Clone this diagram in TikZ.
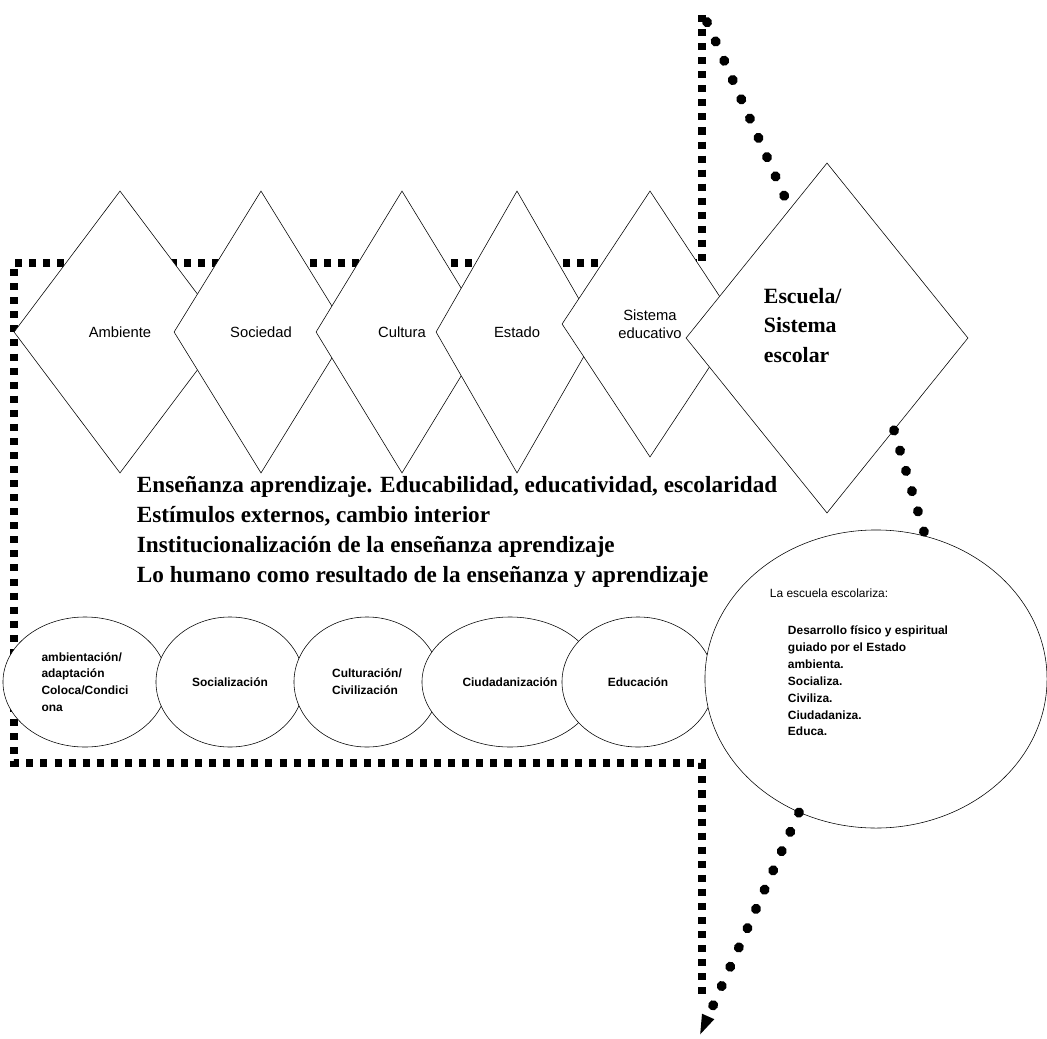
\documentclass[tikz,border=0pt]{standalone}
\usepackage{fontspec}
\setmainfont{Liberation Serif}
\setsansfont{Liberation Sans}
\usetikzlibrary{arrows.meta,shapes.geometric}

\begin{document}
\begin{tikzpicture}[x=0.025cm,y=-0.025cm,
  rombo/.style={diamond,draw,thin,fill=white,inner sep=0pt,align=center,
                font=\sffamily\fontsize{10.5}{13}\selectfont},
  ovalo/.style={ellipse,draw,thin,fill=white,inner sep=0pt,align=left,
                font=\sffamily\bfseries\fontsize{8.5}{12}\selectfont},
  frame/.style={line width=5pt,dash pattern=on 5pt off 5pt},
  stars/.style={line width=7pt,line cap=round,dash pattern=on 0.3pt off 14.7pt},
  big/.style={font=\bfseries\fontsize{16.5}{21.5}\selectfont,align=left},
  small/.style={font=\sffamily\bfseries\fontsize{8.5}{12}\selectfont,align=left}]
  \useasboundingbox (0,0) rectangle (1047,1039);
  % open dotted frame -- sits behind the shapes
  \coordinate (ftop) at (702,15);
  \coordinate (fbot) at (702,1000);
  \draw[frame] (ftop) -- (702,263) -- (14,263) -- (14,763) -- (702,763) -- (fbot);
  % diamonds -- each one overlaps the previous
  \foreach \x/\y/\w/\h/\name/\txt in {120/332/106/141/amb/Ambiente,
                                      261/332/87/141/soc/Sociedad,
                                      402/332/86/141/cul/Cultura,
                                      517/332/81/141/est/Estado,
                                      650/324/88/133/sis/{Sistema\\educativo}}{
    \node[rombo,minimum width=\w*0.05cm,minimum height=\h*0.05cm] (\name) at (\x,\y) {\txt};}
  \node[rombo,minimum width=7.05cm,minimum height=8.75cm] (esc) at (827,338) {};
  \node[big,font=\bfseries\fontsize{15.5}{21}\selectfont,anchor=north west] (esctxt) at (759,283)
       {Escuela/\\Sistema\\escolar};
  % central statements
  \node[big,anchor=north west] (lines) at (132,471)
       {Enseñanza aprendizaje. Educabilidad, educatividad, escolaridad\\
        Estímulos externos, cambio interior\\
        Institucionalización de la enseñanza aprendizaje\\
        Lo humano como resultado de la enseñanza y aprendizaje};
  % ellipses -- processes
  \foreach \x/\w/\name/\txt in {85/82/ambz/{ambientación/\\adaptación\\Coloca/Condici\\ona},
                                230/74/socz/Socialización,
                                367/73/culz/{Culturación/\\Civilización},
                                510/88/ciuz/Ciudadanización,
                                638/76/eduz/Educación}{
    \node[ovalo,minimum width=\w*0.05cm,minimum height=3.25cm] (\name) at (\x,682) {\txt};}
  \node[ellipse,draw,thin,fill=white,minimum width=8.55cm,minimum height=7.45cm] (res) at (876,679) {};
  \node[small,font=\sffamily\fontsize{8.5}{12}\selectfont,anchor=north west] (restit) at (765,584)
       {La escuela escolariza:};
  \node[small,anchor=north west] (reslist) at (783,621)
       {Desarrollo físico y espiritual\\guiado por el Estado\\ambienta.\\Socializa.\\Civiliza.\\
        Ciudadaniza.\\Educa.};
  % star lines
  \coordinate (stop) at (707,22);
  \coordinate (tip) at (699,1037);
  \draw[stars] (stop) -- (esc.106);
  \draw[stars] (esc.-54) -- (res.71);
  \draw[stars,-{Triangle[length=16pt,width=8pt]}] (res.-120) -- (tip);
\end{tikzpicture}
\end{document}
